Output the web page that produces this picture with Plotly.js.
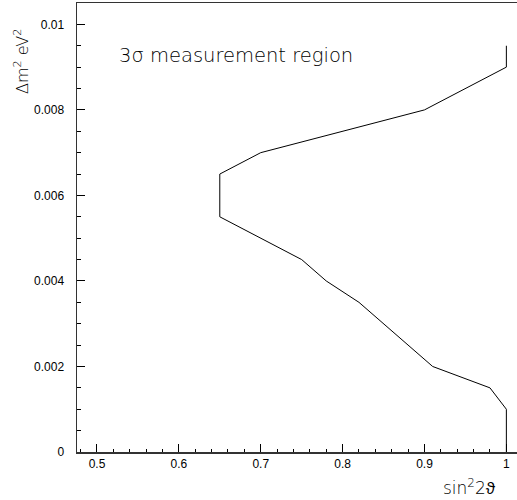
<!DOCTYPE html>
<html>
<head>
<meta charset="utf-8">
<script src="https://cdn.plot.ly/plotly-3.0.1.min.js"></script>
<style>html,body{margin:0;padding:0;background:#fff;overflow:hidden;}#chart{width:517px;height:500px;}</style>
</head>
<body>
<div id="chart"></div>
<script>
// sin^2 2theta values of the 3-sigma contour
const sin2 = [1.0, 1.0, 0.9, 0.7, 0.65, 0.65, 0.75, 0.78, 0.82, 0.91, 0.98, 1.0, 1.0];
// Delta m^2 values (eV^2)
const dm2 = [0.0095, 0.009, 0.008, 0.007, 0.0065, 0.0055, 0.0045, 0.004, 0.0035, 0.002, 0.0015, 0.001, 0.0];
const xTicks = [0.5, 0.6, 0.7, 0.8, 0.9, 1];
const xTickLabels = ['0.5', '0.6', '0.7', '0.8', '0.9', '1'];
const yTicks = [0, 0.002, 0.004, 0.006, 0.008, 0.01];
const yTickLabels = ['0', '0.002', '0.004', '0.006', '0.008', '0.01'];
const regionLabel = '3σ measurement region';
const xTitle = 'sin<sup>2</sup>2ϑ';
const yTitle = 'Δm<sup>2</sup> eV<sup>2</sup>';

const font = 'Liberation Sans, Arial, sans-serif';
const tfont = 'DejaVu Sans, sans-serif';
const trace = {
  x: sin2, y: dm2, type: 'scatter', mode: 'lines',
  line: {color: '#000', width: 1}, hoverinfo: 'skip'
};
const layout = {
  width: 517, height: 500,
  margin: {l: 77, r: 0, t: 3, b: 48},
  paper_bgcolor: '#fff', plot_bgcolor: '#fff',
  showlegend: false,
  font: {family: font, size: 12, color: '#000'},
  xaxis: {
    range: [0.4756, 1.013], showgrid: false, zeroline: false,
    showline: true, linecolor: '#333', linewidth: 1.5, mirror: true,
    tickmode: 'array', tickvals: xTicks, ticktext: xTickLabels,
    ticks: 'inside', ticklen: 8, tickwidth: 1, tickcolor: '#000',
    minor: {dtick: 0.02, ticks: 'inside', ticklen: 3, tickwidth: 1, tickcolor: '#000'},
    tickfont: {family: font, size: 12, color: '#000'}
  },
  yaxis: {
    range: [0, 0.0105], showgrid: false, zeroline: false,
    showline: true, linecolor: '#333', linewidth: 1.5,
    tickmode: 'array', tickvals: yTicks, ticktext: yTickLabels,
    ticks: 'inside', ticklen: 8, tickwidth: 1, tickcolor: '#000',
    ticklabelstandoff: 9,
    minor: {dtick: 0.0005, ticks: 'inside', ticklen: 4, tickwidth: 1, tickcolor: '#000'},
    tickfont: {family: font, size: 12, color: '#000'}
  },
  annotations: [
    {text: regionLabel, x: 0.5245, y: 0.00928, xref: 'x', yref: 'y',
     xanchor: 'left', yanchor: 'middle', showarrow: false,
     font: {family: tfont, size: 19.5, color: '#000', weight: 300}},
    {text: yTitle, x: -0.125, y: 0.8686, xref: 'paper', yref: 'paper',
     xanchor: 'center', yanchor: 'middle', textangle: -90, showarrow: false,
     font: {family: tfont, size: 16, color: '#000', weight: 300}},
    {text: xTitle, x: 0.891, y: -0.078, xref: 'paper', yref: 'paper',
     xanchor: 'center', yanchor: 'middle', showarrow: false,
     font: {family: tfont, size: 17, color: '#000', weight: 300}}
  ]
};
Plotly.newPlot('chart', [trace], layout, {staticPlot: true, displayModeBar: false});
</script>
</body>
</html>
